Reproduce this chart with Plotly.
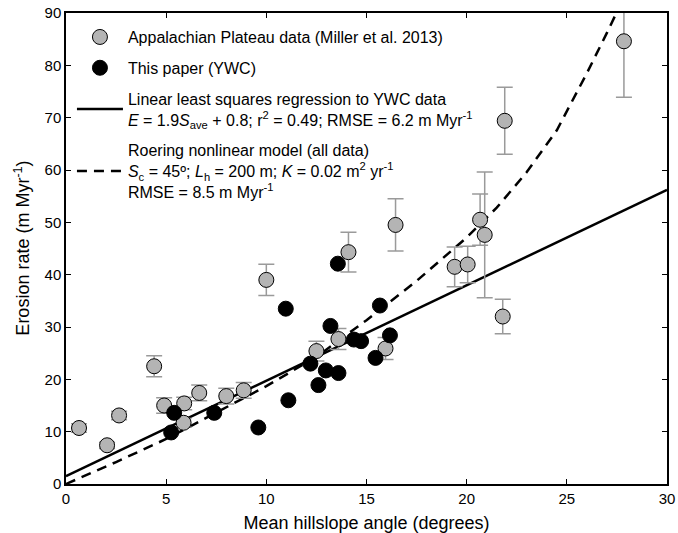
import plotly.graph_objects as go

# Appalachian Plateau data (Miller et al. 2013)
miller_slope = [0.65, 2.05, 2.65, 4.4, 4.9, 5.9, 5.87, 6.65, 8.0, 8.87, 10.0, 12.5,
                13.6, 14.1, 15.95, 16.45, 19.4, 20.05, 20.67, 20.9, 21.8, 21.9, 27.85]
miller_erosion = [10.7, 7.4, 13.1, 22.5, 15.0, 15.4, 11.7, 17.4, 16.8, 17.9, 39.0, 25.4,
                  27.7, 44.3, 25.9, 49.5, 41.5, 41.95, 50.5, 47.6, 32.0, 69.4, 84.6]
miller_err = [0.8, 0.6, 0.8, 2.0, 1.5, 1.2, 0.8, 1.5, 1.5, 1.5, 3.0, 1.9,
              2.0, 3.8, 2.1, 5.0, 3.8, 3.5, 4.9, 12.0, 3.3, 6.4, 10.7]

# This paper (YWC)
ywc_slope = [5.25, 5.4, 7.4, 9.6, 10.97, 11.1, 12.2, 12.6, 12.97, 13.2, 13.57, 13.6,
             14.37, 14.73, 15.45, 15.67, 16.17]
ywc_erosion = [9.85, 13.6, 13.6, 10.8, 33.5, 16.0, 23.0, 18.9, 21.7, 30.2, 42.1, 21.2,
               27.6, 27.3, 24.1, 34.1, 28.4]

# Linear least squares regression (read at ends of the axis)
fit_x = [0, 30]
fit_y = [1.5, 56.2]

# Roering nonlinear model
roering_x = [0, 2.5, 5, 7.5, 10, 12.5, 15, 17.5, 20, 21.5, 23, 24.5, 26, 27, 27.5]
roering_y = [0, 4.2, 8.6, 13.6, 18.7, 24.3, 31.3, 38.8, 47.1, 52.8, 59.6, 67.6, 78.5, 86.2, 90.2]

FONT = "Liberation Sans, Arial, sans-serif"

fig = go.Figure()

fig.add_trace(go.Scatter(
    x=fit_x, y=fit_y, mode="lines",
    line=dict(color="black", width=2.5),
    name="Linear least squares regression to YWC data<br>"
         "<i>E</i> = 1.9<i>S</i><sub>ave</sub> + 0.8; r<sup>2</sup> = 0.49; RMSE = 6.2 m Myr<sup>-1</sup>",
    legendrank=3, legendgroup="c"))

fig.add_trace(go.Scatter(
    x=roering_x, y=roering_y, mode="lines",
    line=dict(color="black", width=2.5, dash="10px,7px"),
    name="Roering nonlinear model (all data)<br>"
         "<i>S</i><sub>c</sub> = 45º; <i>L</i><sub>h</sub> = 200 m; <i>K</i> = 0.02 m<sup>2</sup> yr<sup>-1</sup><br>"
         "RMSE = 8.5 m Myr<sup>-1</sup>",
    legendrank=4, legendgroup="d"))

fig.add_trace(go.Scatter(
    x=miller_slope, y=miller_erosion, mode="markers",
    marker=dict(size=15, color="#b4b4b4", line=dict(color="black", width=1)),
    error_y=dict(type="data", array=miller_err, visible=True,
                 color="#9a9a9a", thickness=1.5, width=8),
    name="Appalachian Plateau data (Miller et al. 2013)",
    legendrank=1, legendgroup="a"))

fig.add_trace(go.Scatter(
    x=ywc_slope, y=ywc_erosion, mode="markers",
    marker=dict(size=15, color="black", line=dict(color="black", width=1)),
    name="This paper (YWC)",
    legendrank=2, legendgroup="b"))

axis_common = dict(
    showline=True, linecolor="black", linewidth=1.5, mirror="ticks",
    ticks="inside", ticklen=5, tickwidth=1, tickcolor="black",
    showgrid=False, zeroline=False, automargin=False,
    ticklabeloverflow="allow",
    tickfont=dict(family=FONT, size=15, color="black"),
)

fig.update_xaxes(range=[0, 30], dtick=5, tick0=0,
                 title=dict(text="Mean hillslope angle (degrees)",
                            font=dict(family=FONT, size=18, color="black"), standoff=18),
                 **axis_common)
fig.update_yaxes(range=[0, 90], dtick=10, tick0=0, **axis_common)

# y-axis title placed as a rotated annotation for exact position
fig.add_annotation(text="Erosion rate (m Myr<sup>-1</sup>)", textangle=-90,
                   xref="paper", yref="paper", x=-0.073, y=0.5,
                   xanchor="center", yanchor="middle", showarrow=False,
                   font=dict(family=FONT, size=18, color="black"))

fig.update_layout(
    width=678, height=533,
    margin=dict(l=66, r=11, t=13, b=49),
    paper_bgcolor="white", plot_bgcolor="white",
    font=dict(family=FONT, color="black"),
    showlegend=True,
    legend=dict(x=0.0099, y=0.985, xanchor="left", yanchor="top",
                bgcolor="rgba(0,0,0,0)", borderwidth=0,
                font=dict(family=FONT, size=16, color="black"),
                traceorder="grouped", tracegroupgap=7, itemwidth=46),
)

# remove the default 8px page margin so the 678x533 figure fills the window exactly
fig.write_html("out.html", config={"displayModeBar": False},
               post_script="document.body.style.margin='0px';")
